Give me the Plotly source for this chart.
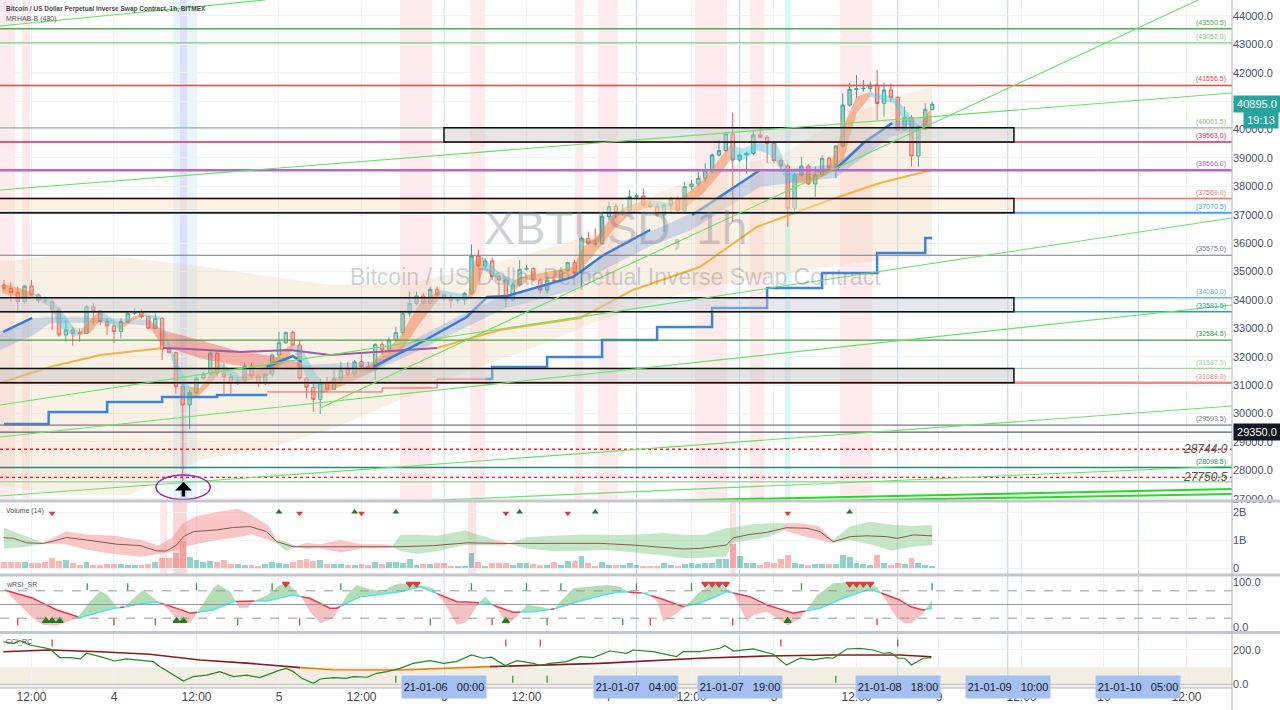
import numpy as np
import plotly.graph_objects as go

# bar times: hours after 2021-01-04 00:00 (XBTUSD 1h bars)
hours = list(range(-16, 120))
opens = [34528, 34410, 34258, 33941, 34493, 34176, 33976, 33941, 33671, 32767,
         32943, 32849, 32826, 33765, 33624, 33237, 33084, 32885, 33237, 33530,
         33589, 33413, 33002, 33354, 32263, 32145, 30950, 30302, 30737, 31242,
         31394, 32122, 31417, 31300, 31066, 31148, 31676, 31324, 31066, 31394,
         32063, 32497, 32861, 32415, 31242, 30925, 30502, 31066, 30854, 31241,
         31535, 31394, 31828, 31652, 31535, 32439, 32239, 32591, 32850, 33530,
         33882, 34141, 33882, 34375, 34176, 34047, 33976, 34000, 34235, 35549,
         35197, 35373, 34821, 34704, 34000, 34527, 35080, 35110, 34704, 34352,
         34704, 34680, 35033, 35314, 34962, 36171, 35995, 35972, 36934, 37286,
         37075, 37133, 37638, 37662, 37344, 37286, 36992, 37344, 37544, 37145,
         37990, 38084, 38283, 38577, 39105, 39258, 39844, 38929, 39105, 39164,
         39809, 39727, 39516, 38906, 38718, 37227, 38401, 38718, 38084, 38401,
         38988, 38671, 39422, 40865, 41417, 41440, 41452, 41570, 40924, 41394,
         41136, 39985, 40431, 39070, 40103, 40713]
highs = [34704, 34610, 34469, 34528, 34704, 34234, 34117, 34023, 33765, 33296,
         33061, 33002, 33824, 33882, 33648, 33354, 33178, 33354, 33589, 33706,
         33671, 33430, 33530, 33400, 32357, 32181, 31066, 30831, 31300, 31476,
         32181, 32181, 31770, 31417, 31300, 31770, 31770, 31417, 31417, 32122,
         32885, 32885, 32920, 32591, 31300, 31066, 31242, 31300, 31594, 31828,
         31828, 31887, 32122, 31828, 32474, 32532, 32708, 33061, 33589, 34293,
         34293, 34235, 34469, 34469, 34200, 34176, 34117, 34293, 35960, 35760,
         35467, 35502, 34880, 34821, 34586, 35408, 35232, 35150, 34762, 34821,
         35033, 35150, 35350, 35408, 36230, 36406, 36523, 37110, 37462, 37380,
         37380, 37873, 37756, 37932, 37462, 37403, 37403, 37638, 37638, 38166,
         38225, 38518, 38812, 39164, 39633, 39927, 40596, 39164, 39222, 39985,
         40103, 39809, 39575, 38988, 38788, 38460, 39047, 38788, 38694, 39105,
         39047, 39457, 41276, 41652, 41922, 41746, 41687, 42098, 41652, 41628,
         41159, 40807, 40513, 40161, 40924, 40983]
lows = [34328, 33941, 33554, 33882, 34141, 33882, 33882, 32943, 32709, 32532,
        32380, 32532, 32802, 33119, 33119, 32767, 32474, 32650, 33178, 33472,
        33354, 32967, 32967, 31887, 32122, 30700, 27550, 29446, 30690, 31183,
        31358, 31300, 30713, 30690, 31007, 31124, 31242, 30925, 31007, 31300,
        31981, 32450, 32380, 31183, 30537, 30069, 29986, 30807, 30831, 31124,
        31300, 31300, 31594, 31511, 31183, 32063, 32122, 32532, 32767, 33413,
        33824, 33824, 33824, 34117, 33976, 33706, 33882, 33824, 34176, 35150,
        35115, 34704, 34176, 33742, 33941, 34469, 35033, 34645, 34235, 34235,
        34610, 34645, 34997, 34880, 34493, 35936, 35878, 35950, 36817, 36875,
        36993, 37075, 37497, 37290, 37227, 36934, 36405, 37051, 37110, 37110,
        37873, 37990, 38166, 38460, 39047, 39222, 36758, 38870, 38460, 39105,
        39692, 38812, 38812, 38577, 36582, 37110, 38342, 38049, 37638, 38342,
        38577, 38283, 39375, 40807, 41100, 41335, 41335, 40337, 40455, 40983,
        39962, 39962, 38694, 38694, 39985, 40666]
closes = [34410, 34258, 33941, 34493, 34176, 33976, 33941, 33671, 32767, 32943,
          32826, 32826, 33765, 33624, 33237, 33084, 32885, 33237, 33530, 33589,
          33413, 33002, 33354, 32263, 32145, 30950, 30302, 30737, 31242, 31394,
          32122, 31417, 31300, 31066, 31148, 31676, 31324, 31066, 31394, 32063,
          32497, 32861, 32415, 31242, 30925, 30502, 31066, 30854, 31241, 31535,
          31394, 31828, 31652, 31535, 32439, 32239, 32591, 32850, 33530, 33882,
          34141, 33882, 34375, 34176, 34047, 33976, 34000, 34235, 35549, 35197,
          35373, 34821, 34704, 34000, 34527, 35080, 35110, 34704, 34352, 34704,
          34680, 35033, 35314, 34962, 36171, 35995, 35972, 36934, 37286, 37075,
          37133, 37638, 37662, 37344, 37286, 36992, 37344, 37544, 37145, 37990,
          38084, 38283, 38577, 39105, 39258, 39844, 38929, 39105, 39164, 39809,
          39727, 39516, 38906, 38718, 37227, 38401, 38718, 38084, 38401, 38988,
          38671, 39422, 40865, 41417, 41440, 41452, 41570, 40924, 41394, 41136,
          39985, 40431, 39070, 40103, 40713, 40895]
# volume in billions of contracts
volume_b = [0.23, 0.22, 0.23, 0.2, 0.18, 0.18, 0.2, 0.34, 0.26, 0.28, 0.18, 0.1, 0.2, 0.09, 0.11,
            0.15, 0.14, 0.13, 0.12, 0.1, 0.12, 0.13, 0.2, 0.36, 0.37, 0.52, 0.95, 0.38, 0.27, 0.22,
            0.24, 0.2, 0.3, 0.13, 0.13, 0.11, 0.12, 0.08, 0.15, 0.22, 0.19, 0.14, 0.22, 0.3, 0.32,
            0.26, 0.3, 0.16, 0.13, 0.13, 0.12, 0.11, 0.15, 0.1, 0.22, 0.15, 0.2, 0.2,
            0.17, 0.32, 0.11, 0.13, 0.13, 0.17, 0.17, 0.08, 0.07, 0.08, 0.52, 0.2, 0.08, 0.17, 0.17,
            0.17, 0.11, 0.19, 0.17, 0.13, 0.11, 0.11, 0.23, 0.11, 0.25, 0.25, 0.43, 0.19, 0.07, 0.2,
            0.11, 0.11, 0.11, 0.17, 0.11, 0.08, 0.08, 0.08, 0.19, 0.11, 0.06, 0.14, 0.19, 0.13, 0.17,
            0.17, 0.31, 0.31, 0.85, 0.43, 0.19, 0.17, 0.11, 0.23, 0.19, 0.31, 0.46, 0.17, 0.14, 0.11,
            0.14, 0.13, 0.13, 0.13, 0.46, 0.4, 0.19, 0.14, 0.11, 0.46,
            0.17, 0.11, 0.19, 0.13, 0.35, 0.19, 0.11, 0.07]

# fast MA cloud (o = rising/orange, c = falling/cyan, colour of segment starting at point)
fast_h = [-16.3, -13.5, -11.7, -9.3, -7.9, -5.9, -5, -3.5, -2, -0.1, 0.9, 2.8, 4.3, 6.7, 8.6, 9.8,
          11, 12.5, 14.5, 15.4, 17.4, 18.3, 22.2, 24.6, 26.1, 27.5, 29, 30.4, 32.9, 37.2, 41.6, 44.5,
          47.4, 50.3, 51.5, 52.5, 53.7, 56.1, 58.3, 60, 62, 66.8, 68.3, 70.7, 72.6, 74.6, 77, 78,
          80.9, 82.8, 85.7, 88.6, 89.6, 91.5, 93.5, 95, 96.4, 97.8, 99.3, 101.2, 104.1, 106.1, 108,
          110, 113.4, 114.8, 116.3, 117.2, 118.9]
fast_hi = [34560, 34400, 34234, 34000, 33706, 33061, 32885, 33296, 33648, 33296, 33119, 33413,
           33530, 33413, 32122, 31535, 30948, 30900, 31535, 31770, 31535, 31300, 31652, 32239,
           32474, 32239, 31535, 31066, 31300, 31711, 32709, 33882, 34352, 34235, 34176, 35408,
           35526, 34939, 34704, 34880, 34939, 35174, 35878, 36347, 37051, 37286, 37500, 37520,
           37403, 37638, 38225, 39164, 39457, 39340, 39516, 39516, 39516, 38694, 38460, 38460,
           38694, 40103, 41159, 41335, 41159, 40807, 40337, 40103, 40807]
fast_lo = [34250, 34100, 34058, 33765, 33061, 32709, 32767, 32826, 33296, 33119, 32943, 33296,
           33413, 33296, 31770, 30831, 30478, 30650, 31183, 31535, 31183, 31124, 31300, 31770,
           32239, 31535, 30948, 30713, 30948, 31418, 32122, 33178, 34058, 34000, 34000, 34235,
           35056, 34704, 34352, 34704, 34704, 34821, 35174, 35878, 36464, 36934, 37200, 37286,
           37168, 37168, 37755, 38577, 38929, 38929, 39281, 39164, 38812, 38225, 38107, 38107,
           38460, 38929, 40572, 41159, 40924, 40337, 39985, 39927, 40103]
fast_col = ("oo" "cccc" "oo" "cc" "oo" "cccc" "ooo" "cc" "ooo" "ccc" "ooooo" "cc" "oo" "cc"
            "ooooooooo" "c" "oooo" "cccccc" "ooooo" "cccc" "oo")

# slow MA cloud (b = bullish blue, r = bearish red)
slow_h = [-16.6, -11.7, -9.3, -5, 0, 5, 7, 12.5, 17.4, 22, 26, 27.5, 37.7, 44.5, 51.3, 57,
          66.8, 71.2, 78, 84, 94, 105, 113, 119]
slow_hi = [32885, 33354, 33413, 33400, 33350, 33300, 32943, 32590, 32240, 32063, 31887, 31711,
           31828, 32709, 33589, 34176, 34821, 35584, 36400, 37051, 38500, 38800, 40279, 40455]
slow_lo = [32240, 32767, 33178, 33200, 33180, 33100, 32400, 31950, 31711, 31605, 31535, 31600,
           31476, 32239, 33061, 33706, 34352, 35056, 35900, 36464, 37990, 38300, 39750, 40103]
slow_col = "bbbbb" "rrrrrr" "bbbbbbbbbbbbb"

# outer envelope (beige)
env_h = [-16.6, -7.9, 2.3, 12.5, 21.2, 31.4, 41.6, 51.8, 62, 70.7, 79.4, 88.1, 96.9, 105.6, 114.3, 119]
env_top = [35338, 35585, 35479, 35197, 34880, 34528, 34528, 35056, 35760, 36359, 37800, 38600,
           39100, 40338, 41218, 41500]
env_bot = [27486, 27134, 27134, 28366, 28718, 29423, 30479, 31535, 32416, 33296, 34000, 34528,
           34880, 35232, 35479, 35514]

# blue MA (drawn only in pieces)
blue_h = [-16.1, -11.9, None, 22.2, 26, 27.3, None, 37.7, 44.5, 51.3, 54.3, 57.2, 66.8, 71.2, 78,
          None, 84.1, 94, None, 105.2, 109, 113.2]
blue_v = [32873, 33366, None, 31641, 32028, 31817, None, 31641, 32486, 33400, 34106, 34141, 34810,
          35585, 36465, None, 36993, 38578, None, 38648, 39528, 40232]

# long MA (o = orange, p = purple)
long_h = [-16.6, -9.3, -2, 7.1, 11, 18.3, 25.6, 31.4, 38.7, 47, 56.1, 67.8, 75.5, 85.2, 93.5,
          104.1, 111.4, 119]
long_v = [31078, 31641, 32063, 32310, 32275, 32169, 32240, 32063, 32169, 32310, 32944, 33366,
          34352, 35162, 36571, 37521, 38120, 38578]
long_col = "ooo" "pppppp" "ooooooooo"

# stop lines
stop1_h = [-16, -9.5, -1, 7, 15, 22.3]
stop1_v = [29634, 30057, 30405, 30585, 30655, 30655]
trail_h = [22.3, 39, 47, 54]
trail_v = [30761, 30901, 31218, 31218]
stop2_h = [54, 55, 63, 71, 79, 87, 95, 103, 111, 118, 119]
stop2_v = [31218, 31641, 31993, 32591, 33049, 33718, 34422, 34950, 35655, 36183, 36183]

# horizontal levels
levels = [43550.5, 43052.0, 41556.5, 40061.5, 39563.0, 38566.0, 37569.0, 37070.5, 35575.0,
          34080.0, 33581.5, 32584.5, 31587.5, 31089.0, 29593.5, 28098.5, 27600.5]
level_colors = ["#4caf50", "#81c784", "#f44336", "#8fb592", "#e0245e", "#ba68c8", "#ff6e5a",
                "#42a5f5", "#787b86", "#64b5f6", "#26a69a", "#43a047", "#a5d6a7", "#f28b82",
                "#787b86", "#26877a", "#a5d6a7"]
level_widths = [1.5, 1.2, 1.5, 1.2, 1.5, 2.5, 1.5, 2, 1.2, 1.5, 1.5, 1.2, 1.5, 2.5, 1.2, 1.5, 1.5]
dotted_levels = [28744.0, 27750.5]

# zones (start hour, end hour, top, bottom)
box_h0 = [48, -20, -20, -20]
box_h1 = [130.9, 130.9, 130.9, 130.9]
box_top = [40061.5, 37569.0, 34080.0, 31587.5]
box_bot = [39563.0, 37070.5, 33581.5, 31089.0]
box_fill = ["rgba(200,200,200,0.45)", "rgba(250,225,190,0.45)", "rgba(200,205,215,0.45)",
            "rgba(195,195,195,0.45)"]

# trend lines
tl_h0 = [-16.6, -16.6, 30, -16.6, -16.6, -16.6, -16.6, 70.7, 85.2]
tl_p0 = [43648, 37873, 30197, 30303, 29176, 27099, 26289, 26887, 26852]
tl_h1 = [22, 162.6, 157.7, 162.6, 162.6, 162.6, 162.6, 162.6, 162.6]
tl_p1 = [44563, 41288, 44563, 36887, 33824, 30268, 28155, 27345, 27169]

# session shading (hours)
pink_bands = [(-16.6, -14.4), (-13.4, -12.2), (41.6, 46.3), (51.8, 54), (67, 68.3), (70.4, 73.3),
              (84.5, 89.2), (92.5, 94.6), (105.6, 110.3)]

# volume MA and band
vma_h = [-16.1, -14.6, -12.7, -10.3, -8.8, -6.9, -4, 0.4, 3.8, 6.2, 7.7, 9.1, 10.1, 11.5, 14.9,
         17.4, 19.8, 22.2, 23.7, 26.1, 29.5, 34.3, 41.6, 46.5, 51.3, 56.1, 61, 65.8, 70.7, 75.5,
         80.4, 82.8, 85.2, 89.1, 90.1, 92.5, 94.9, 97.8, 100.8, 102.7, 104.6, 107.1, 109.5,
         112.4, 113.9, 116.3, 119]
vma_v = [1.08, 1.06, 0.90, 0.88, 0.96, 1.09, 1.0, 0.85, 0.80, 0.61, 0.61, 0.82, 1.12, 1.30, 1.36,
         1.45, 1.48, 1.30, 0.94, 0.76, 0.76, 0.76, 0.76, 0.80, 0.90, 0.88, 0.88, 0.88, 0.88, 0.82,
         0.73, 0.68, 0.70, 0.82, 1.08, 1.20, 1.27, 1.44, 1.42, 1.30, 0.94, 1.12, 1.15, 1.12, 1.06,
         1.18, 1.15]
vb_h = [-16, -13, -10.3, -7, -4, 0, 4, 6.5, 8.5, 10, 12, 15, 18, 20, 22.5, 23.7, 25, 26.5, 28, 30,
        33, 36, 39, 40.5, 41.6, 44, 47, 51, 55.5, 56.5, 57.5, 60, 64, 68, 72, 76, 80, 83, 86, 89,
        90, 92.5, 95, 97.5, 100, 102.5, 104.6, 107, 110, 113, 116, 119]
vb_hi = [1.44, 1.15, 0.90, 1.30, 1.20, 1.15, 1.0, 0.80, 1.10, 1.60, 1.85, 2.0, 2.12, 1.90, 1.50,
         1.00, 0.95, 0.78, 0.90, 0.85, 1.0, 0.85, 0.85, 0.80, 1.18, 1.20, 1.15, 1.35, 1.0, 0.95,
         0.88, 1.10, 1.15, 1.20, 1.18, 1.20, 1.25, 1.18, 1.20, 1.42, 1.45, 1.55, 1.60, 1.60, 1.60,
         1.50, 1.00, 1.48, 1.65, 1.55, 1.50, 1.54]
vb_lo = [0.70, 0.75, 0.86, 0.85, 0.65, 0.50, 0.40, 0.50, 0.58, 0.75, 0.85, 1.00, 1.10, 1.20, 1.00,
         0.88, 0.62, 0.74, 0.68, 0.70, 0.55, 0.70, 0.70, 0.72, 0.62, 0.50, 0.60, 0.82, 0.80, 0.80,
         0.86, 0.70, 0.60, 0.62, 0.64, 0.55, 0.45, 0.35, 0.38, 0.40, 0.90, 1.00, 1.10, 1.35, 1.15,
         1.00, 0.88, 1.00, 0.85, 0.62, 0.75, 0.82]
vb_col = "gg" "rrrrrrrrrrrrr" "gg" "rrrrrr" "ggggg" "rr" "ggggggggggggg" "rrr" "gggggg"
vol_sig_dn = [-9, 27, 36, 57, 66, 98]
vol_sig_up = [24, 35, 41, 59, 70, 107]

# wRSI_SR
rsi_sig_h = [-15.9, -11.8, -8.3, -4.9, -2, -0.1, 1.3, 3.8, 6.3, 8.6, 11.1, 14.4, 17.3, 19.3, 22.3,
             26, 28.5, 31.4, 32.4, 35.8, 39.1, 41.6, 44.5, 49.9, 54.3, 58, 61, 63.9, 67.8, 73.2,
             76.5, 79.4, 82.8, 85.2, 89.2, 92.5, 95, 98.8, 102.7, 106, 110, 114.3, 115.8, 117.7, 119]
rsi_sig = [81.8, 63.6, 37.9, 21.1, 34.2, 41.7, 43.9, 52.6, 54.8, 45.2, 30.7, 37.9, 56.1, 57.7, 57.7,
           70.8, 63.6, 41.7, 41.7, 67.1, 73, 78.1, 89, 56.1, 53.3, 32.9, 34.2, 40.1, 57.7, 78.1,
           76.8, 63.6, 45.2, 52.6, 78.1, 67.1, 48.9, 30.7, 41.7, 63.6, 84, 59.9, 45.2, 37.9, 41.7]
rsi_fast_h = [-15.9, -13.7, -11.8, -10.3, -8.3, -5.4, -3.5, -2, -1, 0.4, 1.3, 3.3, 4.2, 5.2, 7.7,
              9.6, 11.1, 12.5, 14.4, 15.1, 16.9, 18.3, 19.5, 20.2, 22.3, 24.1, 25.2, 27.1, 28.5, 30,
              31.9, 33.9, 35.3, 36.8, 39.1, 40.1, 41.6, 44.5, 46.4, 47.9, 49.9, 51.3, 53.2, 54, 55.7,
              57.2, 58.6, 60, 62, 63.9, 64.9, 66.8, 71.7, 73.6, 75.5, 77.5, 79, 79.9, 81.9, 83.8,
              85.2, 87.1, 88.6, 90, 91.1, 92.1, 93, 95, 96.9, 98, 99.8, 102.3, 104.6, 106.6, 109.5,
              111, 112.4, 113.9, 115, 116, 117.7, 119]
rsi_fast = [81.8, 48.9, 19.7, 5, 3.5, 19.7, 56.1, 79.6, 70.8, 45.2, 41.7, 70.8, 81.8, 70.8, 41.7,
            8.8, 8.8, 41.7, 85.5, 94.3, 78.1, 41.7, 43, 56.1, 70.8, 92.8, 96.5, 70.8, 34.2, 8.8,
            19.7, 70.8, 92.8, 85.5, 78.1, 89, 96.5, 92.8, 85.5, 56.1, 5, 12.3, 56.1, 67.1, 41.7,
            5, 23.2, 48.9, 45.2, 37.9, 56.1, 85.5, 92.8, 89, 70.8, 78.1, 56.1, 12.3, 30.7, 56.1,
            78.1, 94.3, 89, 78.1, 41.7, 12.3, 27, 34.2, 16, 3.5, 19.7, 70.8, 96.5, 98.7, 92.8,
            89, 56.1, 19.7, 9, 9, 31, 60]
rsi_tri_dn = [25, 43, 44, 86, 87, 88, 89, 107, 108, 109, 110]
rsi_tri_up = [-9.9, -9, -7.9, 9.1, 10.1, 57, 98]
rsi_tick_top = [-3.9, 2, 12, 23, 33, 52, 60, 65, 76, 84, 100, 119]
rsi_tick_red = [-14, 0, 27, 55, 78, 90, 111]
rsi_tick_grn = [6, 18, 46, 63, 74]

# CCI_RC
cci_h = [-16.1, -14.6, -13.7, -12.2, -10.3, -9.3, -7.9, -6.4, -4.9, -4, -2, 0.1, 1.8, 3.8, 5.7, 6.7,
         8.6, 10.1, 11.5, 13.5, 15.4, 17.4, 19.3, 21.2, 24.1, 25.1, 26.1, 27.3, 29, 30, 31.9, 33.8,
         34.8, 36.8, 38.2, 39.7, 41.6, 43.5, 46, 47.9, 49.8, 52, 53.7, 54.9, 56.9, 58.6, 61, 62,
         63.4, 65.8, 67.8, 69.7, 72.1, 74.6, 75.5, 78.4, 81.8, 82.8, 85.2, 88.1, 88.9, 90.1, 93,
         95.9, 97.8, 99.8, 101.7, 103.7, 104.6, 106.6, 108.5, 110.4, 111.9, 112.9, 114.1, 115,
         116, 117.7, 118.9]
cci_v = [248, 239, 254, 229, 214, 206, 156, 156, 148, 181, 161, 136, 148, 142, 132, 103, 54, 19, 45,
         54, 74, 45, 54, 39, 83, 93, 74, 35, 6, 31, 39, 35, 45, 41, 64, 74, 93, 122, 138, 122, 132,
         171, 152, 158, 109, 138, 122, 109, 122, 132, 161, 156, 194, 181, 200, 190, 161, 190, 190,
         210, 225, 194, 206, 175, 113, 152, 142, 156, 152, 206, 210, 200, 181, 185, 152, 152, 113,
         152, 156]
cci_slow_h = [-16.1, -9.3, -2, 5.2, 12.5, 19.8, 27.1, 31.9, 41.6, 54.7, 70.7, 85.2, 94.9, 104.6,
              114.3, 118.9]
cci_slow = [190, 200, 190, 175, 142, 122, 97, 85, 83, 103, 122, 152, 165, 171, 171, 161]
cci_slow_col = "mmmmmm" "ooo" "mmmmmmm"
cci_tick_red = [-9, 57, 62, 97, 114]
cci_tick_grn = [41, 58, 63, 105]

H0, H1 = -16.58, 162.62
FONT = "Liberation Sans"


def runs(col):
    out, s = [], 0
    for i in range(1, len(col)):
        if col[i] != col[s]:
            out.append((col[s], s, i))
            s = i
    if s < len(col) - 1:
        out.append((col[s], s, len(col) - 1))
    return out


def band(h, hi, lo, color, xa="x", ya="y"):
    h = list(h)
    return go.Scatter(x=h + h[::-1], y=list(hi) + list(lo)[::-1], fill="toself", fillcolor=color,
                      mode="lines", line=dict(width=0), hoverinfo="skip", showlegend=False,
                      xaxis=xa, yaxis=ya)


def line(x, y, color, width, xa="x", ya="y", shape="linear", dash="solid"):
    return go.Scatter(x=x, y=y, mode="lines", line=dict(color=color, width=width, shape=shape, dash=dash),
                      hoverinfo="skip", showlegend=False, xaxis=xa, yaxis=ya, connectgaps=False)


def cross_split(ha, a, hb, b):
    g = np.union1d(ha, hb)
    g = g[(g >= max(ha[0], hb[0])) & (g <= min(ha[-1], hb[-1]))]
    ya, yb = np.interp(g, ha, a), np.interp(g, hb, b)
    xs, A, B, cuts = [g[0]], [ya[0]], [yb[0]], []
    for i in range(1, len(g)):
        d0, d1 = ya[i - 1] - yb[i - 1], ya[i] - yb[i]
        if d0 * d1 < 0:
            t = d0 / (d0 - d1)
            xs.append(g[i - 1] + t * (g[i] - g[i - 1]))
            yc = ya[i - 1] + t * (ya[i] - ya[i - 1])
            A.append(yc); B.append(yc); cuts.append(len(xs) - 1)
        xs.append(g[i]); A.append(ya[i]); B.append(yb[i])
    bounds = [0] + cuts + [len(xs) - 1]
    segs = []
    for s, e in zip(bounds[:-1], bounds[1:]):
        up = np.mean(np.array(A[s:e + 1]) - np.array(B[s:e + 1])) >= 0
        segs.append((up, xs[s:e + 1], A[s:e + 1], B[s:e + 1]))
    return segs


fig = go.Figure()

# ---------------- main price pane ----------------
fig.add_trace(band(env_h, env_top, env_bot, "rgba(232,196,148,0.24)"))
for c, s, e in runs(slow_col):
    fig.add_trace(band(slow_h[s:e + 1], slow_hi[s:e + 1], slow_lo[s:e + 1],
                       "rgba(90,140,215,0.28)" if c == "b" else "rgba(239,83,80,0.42)"))
for c, s, e in runs(fast_col):
    fig.add_trace(band(fast_h[s:e + 1], fast_hi[s:e + 1], fast_lo[s:e + 1],
                       "rgba(240,130,70,0.5)" if c == "o" else "rgba(80,205,220,0.45)"))
fig.add_trace(line(stop1_h, stop1_v, "#3d85d8", 2.5, shape="hv"))
fig.add_trace(line(trail_h, trail_v, "#ef5350", 1, shape="hv"))
fig.add_trace(line(stop2_h, stop2_v, "#3d85d8", 2.5, shape="hv"))
for c, s, e in runs(long_col):
    fig.add_trace(line(long_h[s:e + 1], long_v[s:e + 1], "#f5b342" if c == "o" else "#9c5ca8", 2))
fig.add_trace(line(blue_h, blue_v, "#3a7bd5", 2.5))
fig.add_trace(go.Candlestick(
    x=hours, open=opens, high=highs, low=lows, close=closes, whiskerwidth=0,
    increasing=dict(line=dict(color="#26a69a", width=1), fillcolor="rgba(38,166,154,0.45)"),
    decreasing=dict(line=dict(color="#ef5350", width=1), fillcolor="rgba(239,83,80,0.45)"),
    hoverinfo="none", showlegend=False))

# ---------------- volume pane ----------------
vol_colors = ["rgba(38,166,154,0.5)" if c >= o else "rgba(239,83,80,0.42)" for o, c in zip(opens, closes)]
fig.add_trace(go.Bar(x=hours, y=volume_b, marker=dict(color=vol_colors, line=dict(width=0)), width=0.85,
                     xaxis="x2", yaxis="y2", hoverinfo="skip", showlegend=False))
for c, s, e in runs(vb_col):
    fig.add_trace(band(vb_h[s:e + 1], vb_hi[s:e + 1], vb_lo[s:e + 1],
                       "rgba(129,199,132,0.45)" if c == "g" else "rgba(244,143,143,0.5)", "x2", "y2"))
fig.add_trace(line(vma_h, vma_v, "#8b5a4a", 1, "x2", "y2"))
fig.add_trace(go.Scatter(x=vol_sig_dn, y=[1.96] * len(vol_sig_dn), mode="markers", xaxis="x2", yaxis="y2",
                         marker=dict(symbol="triangle-down", size=6, color="#e53935"), hoverinfo="skip",
                         showlegend=False))
fig.add_trace(go.Scatter(x=vol_sig_up, y=[2.0] * len(vol_sig_up), mode="markers", xaxis="x2", yaxis="y2",
                         marker=dict(symbol="triangle-up", size=6, color="#1b7d1b"), hoverinfo="skip",
                         showlegend=False))

# ---------------- RSI pane ----------------
for up, xs, A, B in cross_split(rsi_fast_h, rsi_fast, rsi_sig_h, rsi_sig):
    fig.add_trace(band(xs, A, B, "rgba(129,199,132,0.6)" if up else "rgba(239,154,154,0.6)", "x3", "y3"))
for up, xs, A, B in cross_split(rsi_fast_h, rsi_fast, rsi_sig_h, rsi_sig):
    fig.add_trace(line(xs, B, "#4de3f0" if up else "#f23645", 1.5, "x3", "y3"))


def marks(x, y, sym, color, size, xa, ya):
    return go.Scatter(x=x, y=[y] * len(x), mode="markers", xaxis=xa, yaxis=ya, hoverinfo="skip",
                      showlegend=False, marker=dict(symbol=sym, size=size, color=color,
                                                    line=dict(color=color, width=1.3)))


fig.add_trace(marks(rsi_tri_dn, 95, "triangle-down", "#e53935", 6, "x3", "y3"))
fig.add_trace(marks(rsi_tri_up, 14, "triangle-up", "#1b7d1b", 6, "x3", "y3"))
fig.add_trace(marks(rsi_tick_top, 89, "line-ns", "#2e9e3e", 5, "x3", "y3"))
fig.add_trace(marks(rsi_tick_red, 12, "line-ns", "#f23645", 5, "x3", "y3"))
fig.add_trace(marks(rsi_tick_grn, 12, "line-ns", "#2e9e3e", 5, "x3", "y3"))

# ---------------- CCI pane ----------------
for c, s, e in runs(cci_slow_col):
    fig.add_trace(line(cci_slow_h[s:e + 1], cci_slow[s:e + 1], "#8b1a1a" if c == "m" else "#f57c00",
                       1.6, "x4", "y4"))
fig.add_trace(line(cci_h, cci_v, "#1e8c1e", 1.2, "x4", "y4"))
fig.add_trace(marks(cci_tick_red, 241, "line-ns", "#f23645", 5, "x4", "y4"))
fig.add_trace(marks(cci_tick_grn, 29, "line-ns", "#2e9e3e", 5, "x4", "y4"))

# ---------------- shapes ----------------
shapes = []
for a, b in pink_bands:
    shapes.append(dict(type="rect", xref="x", yref="y domain", x0=a, x1=b, y0=0, y1=1,
                       fillcolor="rgba(255,205,210,0.4)", line=dict(width=0), layer="below"))
shapes.append(dict(type="rect", xref="x", yref="y domain", x0=8.6, x1=12.1, y0=0, y1=1,
                   fillcolor="rgba(190,225,250,0.35)", line=dict(width=0), layer="below"))
shapes.append(dict(type="rect", xref="x", yref="y domain", x0=9.6, x1=10.6, y0=0, y1=1,
                   fillcolor="rgba(200,185,255,0.35)", line=dict(width=0), layer="below"))
shapes.append(dict(type="rect", xref="x", yref="y domain", x0=97.6, x1=98.4, y0=0, y1=1,
                   fillcolor="rgba(178,235,242,0.5)", line=dict(width=0), layer="below"))
for a, b, alpha in [(6.7, 7.7, 0.2), (8.6, 10.6, 0.35), (51.5, 52.7, 0.25), (89.6, 90.5, 0.25)]:
    shapes.append(dict(type="rect", xref="x2", yref="y2 domain", x0=a, x1=b, y0=0, y1=1,
                       fillcolor=f"rgba(244,143,143,{alpha})", line=dict(width=0), layer="below"))
for h in [48, 76, 91, 114, 130, 149]:
    shapes.append(dict(type="line", xref="x", yref="paper", x0=h, x1=h, y0=0, y1=1,
                       line=dict(color="#bcd0f2", width=1), layer="below"))
for v, c, w in zip(levels, level_colors, level_widths):
    shapes.append(dict(type="line", xref="paper", yref="y", x0=0, x1=1, y0=v, y1=v,
                       line=dict(color=c, width=w)))
shapes.append(dict(type="line", xref="paper", yref="y", x0=0, x1=1, y0=29350, y1=29350,
                   line=dict(color="#5d606b", width=1.3)))
for v in dotted_levels:
    shapes.append(dict(type="line", xref="paper", yref="y", x0=0, x1=1, y0=v, y1=v,
                       line=dict(color="#ff1a1a", width=1.3, dash="dot")))
for a, b, t, bt, f in zip(box_h0, box_h1, box_top, box_bot, box_fill):
    shapes.append(dict(type="rect", xref="x", yref="y", x0=a, x1=b, y0=bt, y1=t, fillcolor=f,
                       line=dict(color="#111111", width=1.5)))
for i, (a, pa, b, pb) in enumerate(zip(tl_h0, tl_p0, tl_h1, tl_p1)):
    shapes.append(dict(type="line", xref="x", yref="y", x0=a, y0=pa, x1=b, y1=pb,
                       line=dict(color="#22dd22" if i >= 7 else "#63e663", width=2 if i >= 7 else 1.1)))
shapes.append(dict(type="circle", xref="x", yref="y", x0=6.1, x1=14, y0=26975, y1=27838,
                   line=dict(color="#9c27b0", width=1.5)))
# RSI guide lines and CCI band
for v, d in [(80, "dash"), (20, "dash"), (50, "solid")]:
    shapes.append(dict(type="line", xref="paper", yref="y3", x0=0, x1=1, y0=v, y1=v,
                       line=dict(color="#9598a1", width=1, dash=d)))
shapes.append(dict(type="rect", xref="paper", yref="y4", x0=0, x1=1, y0=-100, y1=100,
                   fillcolor="rgba(222,205,178,0.35)", line=dict(width=0), layer="below"))
shapes.append(dict(type="line", xref="paper", yref="y4", x0=0, x1=1, y0=0, y1=0,
                   line=dict(color="#c0c0c0", width=1)))
# pane separators and price-scale border
for y in [0.2718, 0.1642, 0.0807]:
    shapes.append(dict(type="line", xref="paper", yref="paper", x0=0, x1=1.039, y0=y, y1=y,
                       line=dict(color="#c5c7cc", width=3)))
shapes.append(dict(type="line", xref="paper", yref="paper", x0=0, x1=1, y0=0, y1=0,
                   line=dict(color="#b2b5be", width=1)))
shapes.append(dict(type="line", xref="paper", yref="paper", x0=1, x1=1, y0=-0.04, y1=1,
                   line=dict(color="#b2b5be", width=1)))

# ---------------- annotations ----------------
ann = []
for v, c in zip(levels, level_colors):
    ann.append(dict(xref="paper", yref="y", x=0.997, y=v, xanchor="right", yanchor="bottom",
                    text=f"({v:.1f})", showarrow=False, font=dict(size=7, color=c, family=FONT)))
for v in dotted_levels:
    ann.append(dict(xref="paper", yref="y", x=0.998, y=v, xanchor="right", yanchor="middle",
                    text=f"<i>{v:.1f}</i>", showarrow=False, font=dict(size=12, color="#555", family=FONT)))
ann.append(dict(xref="x", yref="y", x=72.9, y=36535, text="XBTUSD, 1h", showarrow=False,
                font=dict(size=46, color="rgba(120,123,134,0.35)", family=FONT)))
ann.append(dict(xref="x", yref="y", x=72.9, y=34810, text="Bitcoin / US Dollar Perpetual Inverse Swap Contract",
                showarrow=False, font=dict(size=23, color="rgba(120,123,134,0.35)", family=FONT)))
ann.append(dict(xref="paper", yref="paper", x=0.003, y=1, yshift=-3, xanchor="left", yanchor="top",
                text="<b>Bitcoin / US Dollar Perpetual Inverse Swap Contract, 1h, BITMEX</b>",
                showarrow=False, font=dict(size=6.5, color="#4a4a4a", family=FONT)))
ann.append(dict(xref="paper", yref="paper", x=0.003, y=1, yshift=-13, xanchor="left", yanchor="top",
                text="MRHAB-B (480)", showarrow=False, font=dict(size=7, color="#555", family=FONT)))
for txt, yd in [("Volume (14)", "y2 domain"), ("wRSI_SR", "y3 domain"), ("CCI_RC", "y4 domain")]:
    ann.append(dict(xref="paper", yref=yd, x=0.003, y=1, yshift=-3, xanchor="left", yanchor="top",
                    text=txt, showarrow=False, font=dict(size=7, color="#555", family=FONT)))
ann.append(dict(xref="x", yref="y", x=10.1, y=27590, ax=0, ay=16, text="", showarrow=True,
                arrowhead=1, arrowsize=0.8, arrowwidth=3.5, arrowcolor="#000"))
# price scale labels
ann.append(dict(xref="paper", yref="y", x=1.0008, y=40895, xanchor="left", yanchor="middle",
                text="40895.0", showarrow=False, bgcolor="#26a69a", width=44, height=14,
                font=dict(size=11, color="white", family=FONT)))
ann.append(dict(xref="paper", yref="y", x=1.0385, y=40330, xanchor="right", yanchor="middle",
                text="19:13", showarrow=False, bgcolor="#26a69a", width=32, height=14,
                font=dict(size=11, color="white", family=FONT)))
ann.append(dict(xref="paper", yref="y", x=1.0008, y=29350, xanchor="left", yanchor="middle",
                text="29350.0", showarrow=False, bgcolor="#131722", width=44, height=14,
                font=dict(size=11, color="white", family=FONT)))
# date markers on time scale
for h, txt in [(48, "21-01-06\u00a0\u00a0\u00a000:00"), (76, "21-01-07\u00a0\u00a0\u00a004:00"),
               (91, "21-01-07\u00a0\u00a0\u00a019:00"), (114, "21-01-08\u00a0\u00a0\u00a018:00"),
               (130, "21-01-09\u00a0\u00a0\u00a010:00"), (149, "21-01-10\u00a0\u00a0\u00a005:00")]:
    ann.append(dict(xref="x4", yref="paper", x=h, y=-0.0165, text=txt, showarrow=False,
                    bgcolor="#a4c0f2", width=82, height=20, borderpad=1,
                    font=dict(size=11, color="#131722", family=FONT)))

tickh = [-12, 0, 12, 24, 36, 48, 60, 72, 84, 96, 108, 120, 132, 144, 156]
tickt = ["12:00", "4", "12:00", "5", "12:00", "6", "12:00", "7", "12:00", "8", "12:00", "9",
         "12:00", "10", "12:00"]
xcommon = dict(range=[H0, H1], autorange=False, automargin=False, showgrid=True, gridcolor="#eef1f6",
               zeroline=False, tickvals=tickh, ticktext=tickt, showticklabels=False, ticks="",
               fixedrange=True)
ycommon = dict(side="right", automargin=False, showgrid=True, gridcolor="#f0f2f6", zeroline=False,
               ticks="", tickfont=dict(size=11, color="#4c525e", family=FONT), fixedrange=True)

fig.update_layout(
    width=1280, height=710, margin=dict(l=0, r=48, t=0, b=22, pad=0, autoexpand=False),
    paper_bgcolor="white", plot_bgcolor="white", showlegend=False, bargap=0,
    font=dict(family=FONT),
    shapes=shapes, annotations=ann,
    xaxis=dict(xcommon, anchor="y", rangeslider=dict(visible=False)),
    xaxis2=dict(xcommon, anchor="y2"),
    xaxis3=dict(xcommon, anchor="y3"),
    xaxis4=dict(xcommon, anchor="y4", showticklabels=True,
                tickfont=dict(size=12, color="#4a4a4a", family=FONT)),
    yaxis=dict(ycommon, anchor="x", domain=[0.2733, 1.0], range=[26958, 44563],
               tickvals=list(range(27000, 44001, 1000)),
               ticktext=[f"{v}.0" for v in range(27000, 44001, 1000)]),
    yaxis2=dict(ycommon, anchor="x2", domain=[0.1657, 0.2703], range=[-0.214, 2.357],
                tickvals=[0, 1, 2], ticktext=["0", "1B", "2B"]),
    yaxis3=dict(ycommon, anchor="x3", domain=[0.0814, 0.1628], range=[-10.3, 112.5],
                tickvals=[0, 100], ticktext=["0.0", "100.0"], showgrid=False),
    yaxis4=dict(ycommon, anchor="x4", domain=[0.0, 0.0799], range=[-21.6, 299],
                tickvals=[0, 200], ticktext=["0.0", "200.0"]),
)

# the page's default 8px body margin would push the chart off the window edge
fig.write_html("out.html", config={"displayModeBar": False},
               post_script="document.body.style.margin='0px';document.body.style.overflow='hidden';")
